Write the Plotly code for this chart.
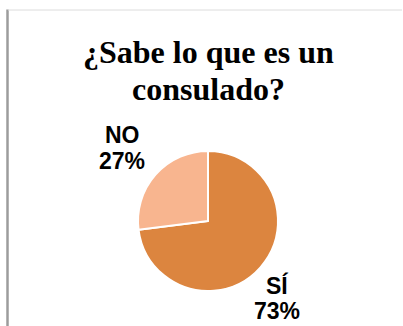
import plotly.graph_objects as go

# Survey answers
labels = ["SÍ", "NO"]
values = [73, 27]
colors = ["#DC853F", "#F8B58F"]
title_lines = ["¿Sabe lo que es un", "consulado?"]

W, H = 403, 326
# plot area: pie centred at (208, 221) with radius 70
L, R, T, B = 138, 278, 151, 291


def px_x(x):
    return (x - L) / (R - L)


def px_y(y):
    return (B - y) / (B - T)


fig = go.Figure(
    go.Pie(
        labels=labels,
        values=values,
        sort=False,
        direction="clockwise",
        rotation=0,
        marker=dict(colors=colors, line=dict(color="#FFFFFF", width=2)),
        textinfo="none",
        hoverinfo="label+percent",
        showlegend=False,
    )
)

total = sum(values)
pct = [f"{round(100 * v / total)}%" for v in values]

annotations = []
# title, one annotation per line
for text, cy in zip(title_lines, [52, 89]):
    annotations.append(dict(
        text=f"<b>{text}</b>", x=px_x(208), y=px_y(cy), xref="paper", yref="paper",
        xanchor="center", yanchor="middle", showarrow=False,
        font=dict(family="Liberation Serif", size=32, color="#000000"),
    ))

# slice labels: name and percentage on two lines
label_pos = {"SÍ": (277, 285, 311), "NO": (122, 135, 161)}
for name, p in zip(labels, pct):
    cx, y1, y2 = label_pos[name]
    for text, cy in ((name, y1), (p, y2)):
        annotations.append(dict(
            text=f"<b>{text}</b>", x=px_x(cx), y=px_y(cy), xref="paper", yref="paper",
            xanchor="center", yanchor="middle", showarrow=False,
            font=dict(family="Liberation Sans", size=23, color="#000000"),
        ))

shapes = [
    # frame: left rule and top rule
    dict(type="line", xref="paper", yref="paper", x0=px_x(7.5), x1=px_x(7.5),
         y0=px_y(9.5), y1=px_y(330), line=dict(color="#9C9C9C", width=2.5)),
    dict(type="line", xref="paper", yref="paper", x0=px_x(8), x1=px_x(402),
         y0=px_y(10), y1=px_y(10), line=dict(color="#DCDCDC", width=1)),
]

fig.update_layout(
    width=W, height=H,
    margin=dict(l=L, r=W - R, t=T, b=H - B, pad=0),
    paper_bgcolor="#FFFFFF", plot_bgcolor="#FFFFFF",
    annotations=annotations, shapes=shapes,
)

fig.write_html("out.html", config={"displayModeBar": False})
